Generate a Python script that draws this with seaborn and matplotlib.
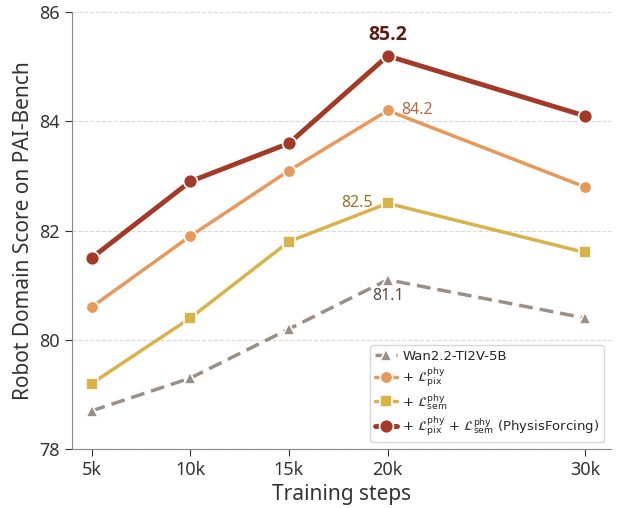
import matplotlib
matplotlib.use("Agg")
import matplotlib.pyplot as plt
import seaborn as sns
import pandas as pd

steps = [5, 10, 15, 20, 30]
step_labels = ["5k", "10k", "15k", "20k", "30k"]
base = [78.7, 79.3, 80.2, 81.1, 80.4]
pix = [80.6, 81.9, 83.1, 84.2, 82.8]
sem = [79.2, 80.4, 81.8, 82.5, 81.6]
full = [81.5, 82.9, 83.6, 85.2, 84.1]

names = ["Wan2.2-TI2V-5B",
         r"+ $\mathcal{L}_{\mathrm{pix}}^{\mathrm{phy}}$",
         r"+ $\mathcal{L}_{\mathrm{sem}}^{\mathrm{phy}}$",
         r"+ $\mathcal{L}_{\mathrm{pix}}^{\mathrm{phy}}$ + $\mathcal{L}_{\mathrm{sem}}^{\mathrm{phy}}$ (PhysisForcing)"]

sns.set_style("ticks")
plt.rcParams['font.family'] = ['Noto Sans', 'DejaVu Sans']

fig, ax = plt.subplots(figsize=(6.2, 5.08), dpi=100)

styles = [
    (base, "#9c8f86", "^", (0, (4, 2)), 2.5),
    (pix, "#e9985c", "o", "-", 2.5),
    (sem, "#d9b349", "s", "-", 2.5),
    (full, "#a33a28", "o", "-", 3.5),
]
for (vals, col, mk, ls, lw), name in zip(styles, names):
    df = pd.DataFrame({"step": steps, "score": vals})
    sns.lineplot(data=df, x="step", y="score", ax=ax, color=col, marker=mk,
                 linestyle=ls, linewidth=lw, markersize=9 if lw < 3 else 10,
                 markeredgecolor="white", markeredgewidth=1.2, label=name)

ax.annotate("85.2", (20, 85.2), xytext=(0, 8), textcoords="offset points",
            ha="center", va="bottom", fontsize=14, fontweight="bold",
            family=["Open Sans", "DejaVu Sans"], color="#5e1c12")
ax.annotate("84.2", (20, 84.2), xytext=(10, 0), textcoords="offset points",
            ha="left", va="center", fontsize=11.5, color="#b8693c")
ax.annotate("82.5", (20, 82.5), xytext=(-11, 0), textcoords="offset points",
            ha="right", va="center", fontsize=11.5, color="#97741f")
ax.annotate("81.1", (20, 81.1), xytext=(0, -6), textcoords="offset points",
            ha="center", va="top", fontsize=11.5, color="#5a4a3e")

ax.set_xlim(4, 31.3)
ax.set_ylim(78, 86)
ax.set_xticks(steps)
ax.set_xticklabels(step_labels)
ax.set_yticks([78, 80, 82, 84, 86])
ax.tick_params(labelsize=13, colors="#333333", length=5)
ax.set_xlabel("Training steps", fontsize=15, color="#333333")
ax.set_ylabel("Robot Domain Score on PAI-Bench", fontsize=15, color="#333333")
ax.yaxis.grid(True, linestyle="--", color="#ddd8d0", linewidth=0.8)
sns.despine(ax=ax)
for s in ["left", "bottom"]:
    ax.spines[s].set_color("#888888")

leg = ax.legend(loc="lower right", frameon=True, handlelength=1.7,
                borderpad=0.35, labelspacing=0.2, handletextpad=0.4,
                prop={"family": "DejaVu Sans", "size": 9.5})
leg.get_frame().set_edgecolor("#cccccc")

fig.subplots_adjust(left=0.116, right=0.985, top=0.976, bottom=0.116)
fig.savefig("out.png", dpi=100)
